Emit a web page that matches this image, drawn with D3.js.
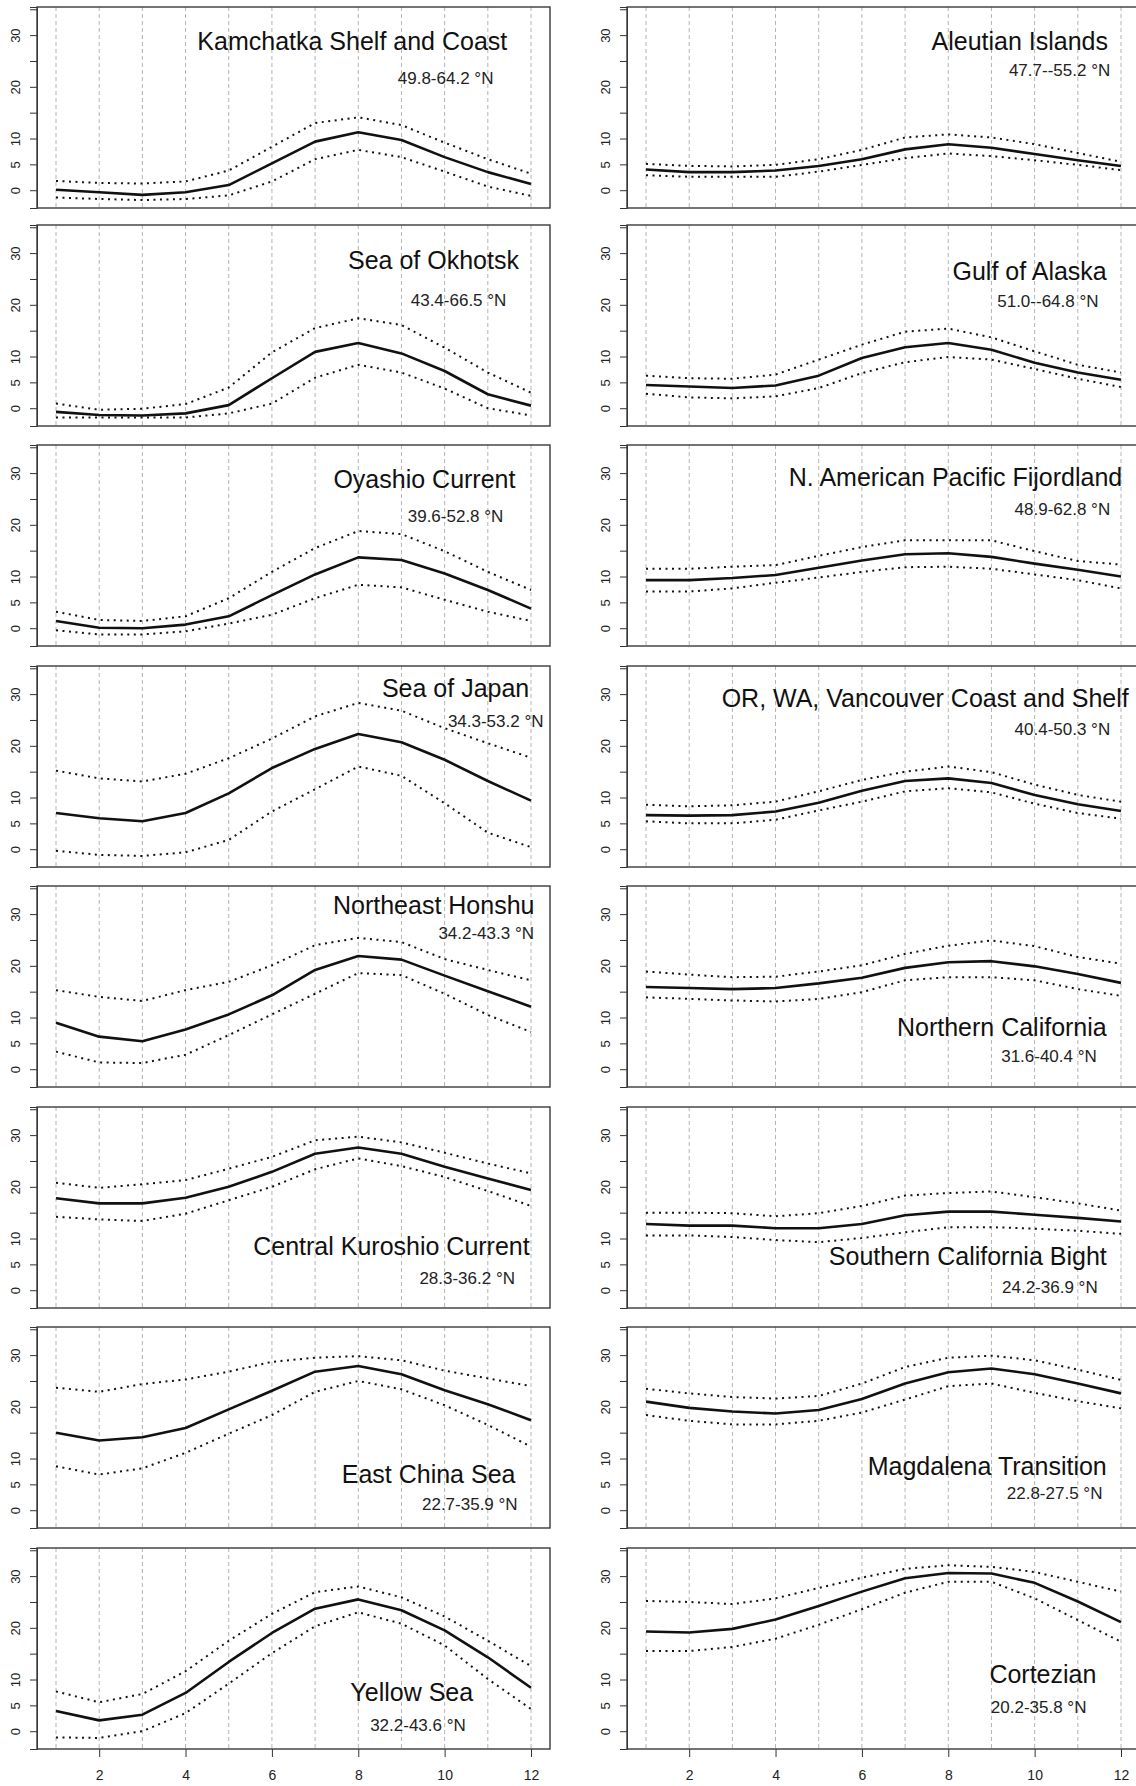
<!DOCTYPE html>
<html>
<head>
<meta charset="utf-8">
<script src="https://cdn.jsdelivr.net/npm/d3@7/dist/d3.min.js"></script>
<style>
  body { margin: 0; background: #fff; }
  svg { display: block; font-family: "Liberation Sans", Arial, Helvetica, sans-serif; }
</style>
</head>
<body>
<div id="chart"></div>
<script>
// monthly sea surface temperature (deg C) by coastal region
const months = d3.range(1, 13);

// left column top to bottom, then right column top to bottom
const regions = [
    "Kamchatka Shelf and Coast", "Sea of Okhotsk", "Oyashio Current", "Sea of Japan",
    "Northeast Honshu", "Central Kuroshio Current", "East China Sea", "Yellow Sea",
    "Aleutian Islands", "Gulf of Alaska", "N. American Pacific Fijordland",
    "OR, WA, Vancouver Coast and Shelf", "Northern California", "Southern California Bight",
    "Magdalena Transition", "Cortezian"
];

const latRanges = [
    "49.8-64.2 °N", "43.4-66.5 °N", "39.6-52.8 °N", "34.3-53.2 °N",
    "34.2-43.3 °N", "28.3-36.2 °N", "22.7-35.9 °N", "32.2-43.6 °N",
    "47.7--55.2 °N", "51.0--64.8 °N", "48.9-62.8 °N", "40.4-50.3 °N",
    "31.6-40.4 °N", "24.2-36.9 °N", "22.8-27.5 °N", "20.2-35.8 °N"
];

const meanSST = [
    [0.1, -0.4, -0.9, -0.4, 1.0, 5.2, 9.4, 11.2, 9.7, 6.4, 3.5, 1.2],
    [-0.7, -1.3, -1.4, -1.0, 0.6, 5.8, 10.9, 12.6, 10.6, 7.2, 2.7, 0.5],
    [1.4, 0.1, 0.0, 0.7, 2.3, 6.4, 10.4, 13.7, 13.2, 10.6, 7.4, 3.8],
    [7.0, 6.0, 5.4, 7.0, 10.8, 15.7, 19.4, 22.3, 20.7, 17.3, 13.2, 9.4],
    [9.0, 6.3, 5.4, 7.7, 10.6, 14.3, 19.2, 21.9, 21.2, 18.1, 15.1, 12.1],
    [17.8, 16.8, 16.8, 17.9, 20.0, 22.9, 26.4, 27.6, 26.4, 23.9, 21.6, 19.4],
    [15.0, 13.5, 14.1, 15.9, 19.5, 23.1, 26.8, 27.9, 26.3, 23.2, 20.5, 17.4],
    [3.9, 2.1, 3.2, 7.4, 13.4, 19.0, 23.7, 25.5, 23.4, 19.5, 14.3, 8.4],
    [4.0, 3.5, 3.5, 3.8, 4.7, 6.0, 7.9, 8.9, 8.2, 7.0, 5.8, 4.7],
    [4.5, 4.2, 3.9, 4.4, 6.3, 9.7, 11.8, 12.6, 11.3, 8.8, 6.9, 5.5],
    [9.3, 9.3, 9.7, 10.3, 11.7, 13.1, 14.3, 14.5, 13.8, 12.5, 11.3, 10.0],
    [6.6, 6.5, 6.6, 7.3, 9.0, 11.3, 13.2, 13.7, 12.8, 10.5, 8.7, 7.4],
    [15.9, 15.7, 15.5, 15.7, 16.6, 17.7, 19.6, 20.7, 20.9, 19.9, 18.4, 16.7],
    [12.8, 12.5, 12.5, 12.0, 12.0, 12.8, 14.5, 15.2, 15.2, 14.6, 14.0, 13.3],
    [21.0, 19.8, 19.1, 18.7, 19.4, 21.5, 24.5, 26.7, 27.4, 26.3, 24.5, 22.6],
    [19.3, 19.1, 19.8, 21.6, 24.2, 27.0, 29.6, 30.6, 30.5, 28.7, 25.1, 21.1]
];

const upperSST = [
    [1.8, 1.4, 1.3, 1.7, 3.8, 8.4, 13.0, 14.1, 12.6, 9.2, 6.0, 3.2],
    [0.9, -0.3, -0.1, 0.8, 4.0, 10.8, 15.5, 17.4, 16.1, 11.7, 6.9, 3.0],
    [3.2, 1.6, 1.4, 2.3, 5.8, 10.9, 15.5, 18.8, 18.2, 14.9, 10.9, 7.4],
    [15.2, 13.7, 13.1, 14.6, 17.6, 21.4, 25.7, 28.3, 26.8, 23.4, 20.5, 17.7],
    [15.3, 14.0, 13.2, 15.3, 16.9, 20.1, 24.0, 25.4, 24.6, 21.3, 19.2, 17.2],
    [20.8, 19.8, 20.5, 21.3, 23.5, 25.8, 29.0, 29.7, 28.6, 26.6, 24.5, 22.6],
    [23.7, 22.9, 24.4, 25.3, 26.8, 28.7, 29.5, 29.8, 29.0, 27.0, 25.5, 24.0],
    [7.7, 5.6, 7.2, 11.6, 17.5, 22.7, 26.9, 28.0, 25.9, 22.2, 17.5, 12.6],
    [5.1, 4.7, 4.6, 4.9, 6.0, 7.8, 10.2, 10.8, 10.2, 8.9, 7.2, 5.5],
    [6.3, 5.8, 5.7, 6.5, 9.4, 12.3, 14.8, 15.4, 13.7, 11.0, 8.4, 6.9],
    [11.5, 11.5, 11.9, 12.2, 14.0, 15.7, 17.0, 17.0, 17.0, 14.9, 13.0, 12.3],
    [8.6, 8.3, 8.5, 9.2, 11.2, 13.4, 15.0, 16.0, 14.9, 12.5, 10.5, 9.2],
    [18.9, 18.3, 17.8, 17.9, 18.9, 20.1, 22.3, 23.9, 24.9, 23.8, 21.7, 20.4],
    [15.0, 15.0, 14.9, 14.3, 14.9, 16.3, 18.3, 18.8, 19.1, 18.0, 16.8, 15.4],
    [23.5, 22.6, 21.9, 21.6, 22.1, 24.5, 27.7, 29.5, 29.9, 29.0, 27.2, 25.2],
    [25.2, 25.0, 24.6, 25.7, 27.7, 29.7, 31.4, 32.1, 31.8, 30.8, 28.9, 27.0]
];

const lowerSST = [
    [-1.4, -1.7, -1.9, -1.7, -1.0, 1.7, 6.0, 7.8, 6.4, 3.6, 0.7, -1.1],
    [-1.8, -1.8, -1.8, -1.8, -1.0, 0.9, 5.9, 8.4, 6.9, 3.8, 0.0, -1.4],
    [-0.4, -1.2, -1.2, -0.6, 0.9, 2.6, 5.8, 8.4, 7.9, 5.5, 3.2, 1.4],
    [-0.3, -1.1, -1.3, -0.6, 1.8, 7.3, 11.6, 16.0, 14.2, 8.9, 3.2, 0.4],
    [3.4, 1.3, 1.2, 2.8, 6.6, 10.6, 14.6, 18.6, 18.2, 14.6, 10.5, 7.2],
    [14.2, 13.7, 13.4, 14.8, 17.4, 20.0, 23.4, 25.5, 24.0, 21.9, 19.2, 16.3],
    [8.5, 6.9, 8.1, 11.1, 14.8, 18.4, 22.9, 25.0, 23.4, 20.3, 16.5, 12.3],
    [-1.2, -1.3, 0.0, 3.5, 9.2, 15.1, 20.3, 23.0, 20.8, 16.6, 10.1, 4.3],
    [2.9, 2.6, 2.6, 2.6, 3.6, 4.9, 6.2, 7.1, 6.6, 5.8, 4.9, 3.9],
    [2.8, 2.1, 1.9, 2.3, 3.9, 6.8, 8.9, 9.9, 9.4, 7.6, 5.7, 4.1],
    [7.1, 7.1, 7.7, 8.8, 9.8, 10.9, 11.8, 11.9, 11.5, 10.4, 9.3, 7.7],
    [5.4, 5.0, 5.0, 5.7, 7.5, 9.2, 11.2, 11.8, 11.0, 8.8, 7.0, 5.9],
    [13.9, 13.6, 13.3, 13.1, 13.6, 14.9, 17.2, 17.8, 17.8, 17.2, 15.5, 14.2],
    [10.6, 10.6, 10.3, 9.7, 9.3, 10.1, 11.2, 12.2, 12.2, 11.9, 11.5, 10.9],
    [18.4, 17.3, 16.6, 16.6, 17.3, 18.9, 21.4, 24.0, 24.5, 22.7, 21.1, 19.7],
    [15.5, 15.5, 16.3, 17.9, 20.6, 23.6, 26.8, 28.9, 28.9, 25.7, 21.5, 17.3]
];

const yTicks = [0, 5, 10, 15, 20, 25, 30, 35];
const yTickLabels = [0, 5, 10, 20, 30];
const xTicks = [2, 4, 6, 8, 10, 12];

// label anchors (right end of text) in month / deg C units, per panel
const titleAt = [
    [11.45, 27.1], [11.72, 26.9], [11.64, 27.2], [11.96, 29.5],
    [12.08, 30.1], [11.97, 6.9], [11.64, 5.2], [10.66, 5.9],
    [11.7, 27.2], [11.67, 24.8], [12.03, 27.5], [12.18, 27.6],
    [11.67, 6.45], [11.67, 4.8], [11.67, 6.8], [11.43, 9.4]
];
const subAt = [
    [11.13, 20.5], [11.43, 19.8], [11.36, 20.5], [12.29, 23.7],
    [12.07, 25.1], [11.63, 1.2], [11.69, 0.1], [10.49, 0.1],
    [11.75, 22.1], [11.48, 19.5], [11.75, 21.9], [11.75, 22.1],
    [11.44, 1.4], [11.46, -0.5], [11.57, 2.1], [11.2, 3.5]
];

const width = 1136, height = 1786;
const panelW = 513, panelH = 201;
const colLeft = [37, 627];
const rowTop = [7, 225, 445, 666, 886, 1107, 1327, 1548];

const svg = d3.select("#chart").append("svg")
    .attr("width", width)
    .attr("height", height);

svg.append("rect").attr("width", width).attr("height", height).attr("fill", "#fff");

const x = d3.scaleLinear().domain([0.56, 12.44]).range([0, panelW]);
const y = d3.scaleLinear().domain([-3.44, 35.44]).range([panelH, 0]);

const line = d3.line()
    .x((d, i) => x(months[i]))
    .y(d => y(d));

regions.forEach((name, k) => {
    const col = k < 8 ? 0 : 1;
    const row = k % 8;
    const g = svg.append("g")
        .attr("transform", "translate(" + colLeft[col] + "," + rowTop[row] + ")");

    // dashed month gridlines
    g.append("g")
        .selectAll("line")
        .data(months)
        .enter().append("line")
        .attr("x1", d => x(d))
        .attr("x2", d => x(d))
        .attr("y1", 0)
        .attr("y2", panelH)
        .attr("stroke", "#b4b4b4")
        .attr("stroke-width", 1)
        .attr("stroke-dasharray", "4,3");

    // y axis
    const yAxis = g.append("g")
        .call(d3.axisLeft(y)
            .tickValues(yTicks)
            .tickSize(7)
            .tickFormat(d => yTickLabels.includes(d) ? d : ""));
    yAxis.select(".domain").attr("stroke", "#333");
    yAxis.selectAll(".tick line").attr("stroke", "#333");
    yAxis.selectAll(".tick text")
        .attr("transform", "rotate(-90)")
        .attr("x", 0)
        .attr("y", -17)
        .attr("dy", 0)
        .style("text-anchor", "middle")
        .style("font-size", "13px")
        .style("font-family", "'Liberation Sans', Arial, sans-serif")
        .attr("fill", "#222");

    // x axis on the bottom row only
    if (row === 7) {
        const xAxis = g.append("g")
            .attr("transform", "translate(0," + panelH + ")")
            .call(d3.axisBottom(x)
                .tickValues(xTicks)
                .tickSize(8)
                .tickPadding(13));
        xAxis.select(".domain").remove();
        xAxis.selectAll(".tick line").attr("stroke", "#333");
        xAxis.selectAll(".tick text")
            .style("font-size", "14px")
            .style("font-family", "'Liberation Sans', Arial, sans-serif")
            .attr("fill", "#222");
    }

    // bounds (dotted) and mean (solid)
    [upperSST[k], lowerSST[k]].forEach(series => {
        g.append("path")
            .datum(series)
            .attr("d", line)
            .attr("fill", "none")
            .attr("stroke", "#111")
            .attr("stroke-width", 2)
            .attr("stroke-dasharray", "2,4.5");
    });

    g.append("path")
        .datum(meanSST[k])
        .attr("d", line)
        .attr("fill", "none")
        .attr("stroke", "#111")
        .attr("stroke-width", 2.6)
        .attr("stroke-linejoin", "round");

    // box
    g.append("rect")
        .attr("x", 0)
        .attr("y", 0)
        .attr("width", panelW)
        .attr("height", panelH)
        .attr("fill", "none")
        .attr("stroke", "#3a3a3a")
        .attr("stroke-width", 1.4);

    // region name and latitude range
    g.append("text")
        .attr("x", x(titleAt[k][0]))
        .attr("y", y(titleAt[k][1]))
        .attr("text-anchor", "end")
        .style("font-size", "25px")
        .attr("fill", "#111")
        .text(name);

    g.append("text")
        .attr("x", x(subAt[k][0]))
        .attr("y", y(subAt[k][1]))
        .attr("text-anchor", "end")
        .style("font-size", "17px")
        .attr("fill", "#222")
        .text(latRanges[k]);
});
</script>
</body>
</html>
